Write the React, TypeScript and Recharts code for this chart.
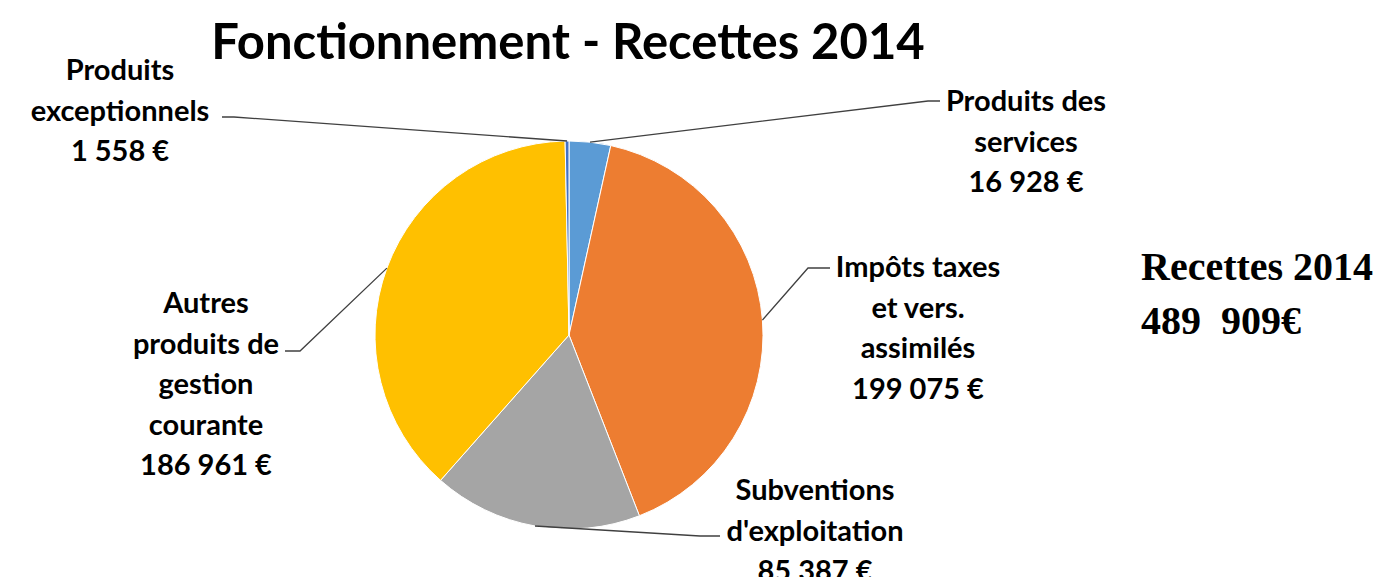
import React from "react";
import { Pie, PieChart, Cell } from "recharts";

const categories = [
  "Produits des services",
  "Impôts taxes et vers. assimilés",
  "Subventions d'exploitation",
  "Autres produits de gestion courante",
  "Produits exceptionnels",
];
const amounts = [16928, 199075, 85387, 186961, 1558];
const labelLines = [
  ["Produits des", "services"],
  ["Impôts taxes", "et vers.", "assimilés"],
  ["Subventions", "d'exploitation"],
  ["Autres", "produits de", "gestion", "courante"],
  ["Produits", "exceptionnels"],
];
const colors = ["#5B9BD5", "#ED7D31", "#A5A5A5", "#FFC000", "#4472C4"];

// label layout: text block centre x, first baseline y, elbow and end of leader line
const labelLayout = [
  { x: 1026, y: 111, elbow: [928, 101], end: [940, 101] },
  { x: 918, y: 277, elbow: [808, 268], end: [830, 268] },
  { x: 815, y: 500, elbow: [700, 536], end: [720, 536] },
  { x: 206, y: 313, elbow: [300, 351], end: [285, 351] },
  { x: 120, y: 80, elbow: [234, 117], end: [222, 117] },
];

const chartData = categories.map((name, i) => ({ name, value: amounts[i] }));

function fmtEuro(v: number) {
  return String(v).replace(/\B(?=(\d{3})+(?!\d))/g, " ") + " €";
}

const FONT = "Lato, 'Open Sans', sans-serif";
const RAD = Math.PI / 180;

function renderLabel(props: any) {
  const { cx, cy, midAngle, outerRadius, index } = props;
  const lay = labelLayout[index];
  const sx = cx + outerRadius * Math.cos(-midAngle * RAD);
  const sy = cy + outerRadius * Math.sin(-midAngle * RAD);
  const lines = [...labelLines[index], fmtEuro(amounts[index])];
  return (
    <g key={`lbl-${index}`}>
      <polyline
        points={`${sx},${sy} ${lay.elbow[0]},${lay.elbow[1]} ${lay.end[0]},${lay.end[1]}`}
        fill="none"
        stroke="#404040"
        strokeWidth={1.3}
      />
      <text
        x={lay.x}
        y={lay.y}
        textAnchor="middle"
        fontFamily={FONT}
        fontWeight={700}
        fontSize={29}
        fill="#000"
      >
        {lines.map((l, k) => (
          <tspan key={k} x={lay.x} dy={k === 0 ? 0 : 40.5}>
            {l}
          </tspan>
        ))}
      </text>
    </g>
  );
}

export default function App() {
  return (
    <div
      style={{
        position: "absolute",
        left: 0,
        top: 0,
        width: 1386,
        height: 577,
        background: "#fff",
        overflow: "hidden",
      }}
    >
      <div
        style={{
          position: "absolute",
          left: 0,
          width: 1136,
          top: 11,
          textAlign: "center",
          fontFamily: FONT,
          fontWeight: 700,
          fontSize: 49,
          lineHeight: "58px",
          color: "#000",
        }}
      >
        Fonctionnement - Recettes 2014
      </div>
      <div
        style={{
          position: "absolute",
          left: 1141,
          top: 240,
          fontFamily: "'Liberation Serif', 'DejaVu Serif', serif",
          fontWeight: 700,
          fontSize: 40,
          lineHeight: "54px",
          color: "#000",
          whiteSpace: "pre",
        }}
      >
        {"Recettes 2014\n489  909€"}
      </div>
      <PieChart width={1386} height={577} style={{ position: "absolute", left: 0, top: 0 }}>
        <Pie
          data={chartData}
          dataKey="value"
          nameKey="name"
          cx={564}
          cy={330}
          outerRadius={194}
          startAngle={90}
          endAngle={-270}
          stroke="#fff"
          strokeWidth={1}
          label={renderLabel}
          labelLine={false}
          isAnimationActive={false}
        >
          {chartData.map((d, i) => (
            <Cell key={d.name} fill={colors[i]} />
          ))}
        </Pie>
      </PieChart>
    </div>
  );
}
